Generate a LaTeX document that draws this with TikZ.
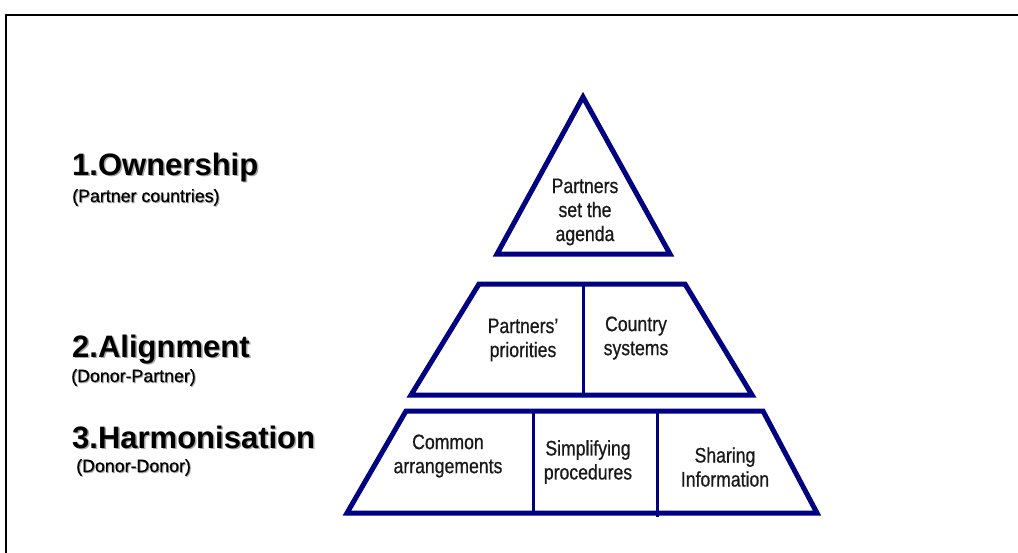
\documentclass[tikz,border=0pt]{standalone}
\usepackage{fontspec}
\setmainfont{Liberation Sans}
\newfontfamily\narrowfont[FakeStretch=0.84,FakeBold=0.7]{Liberation Sans}
\newfontfamily\subfont[FakeBold=0.6]{Liberation Sans}
\definecolor{navy}{RGB}{0,0,128}
\definecolor{ink}{RGB}{25,25,25}
\begin{document}
\begin{tikzpicture}[x=1pt,y=-1pt,
  outline/.style={draw=navy,line width=5pt,line join=miter},
  divider/.style={draw=navy,line width=3pt},
  inner/.style={align=center,inner sep=0pt,text=ink,font=\narrowfont\fontsize{21}{24}\selectfont},
  level/.style={anchor=base west,inner sep=0pt,font=\bfseries\fontsize{31}{31}\selectfont},
  sublevel/.style={anchor=base west,inner sep=0pt,font=\subfont\fontsize{17.8}{18}\selectfont},
  shadow/.style={text=black!35}]
\useasboundingbox (0,0) rectangle (1018,552);
\fill[white] (0,0) rectangle (1018,552);
% frame
\draw[line width=2.4pt] (6,560) -- (6,15) -- (1030,15);

% pyramid
\coordinate (apex) at (583,97);
\coordinate (tl) at (497,254);
\coordinate (tr) at (670,254);
\draw[outline] (apex) -- (tr) -- (tl) -- cycle;

\coordinate (a1) at (479,284);
\coordinate (a2) at (685,284);
\coordinate (a3) at (752,395);
\coordinate (a4) at (411,395);
\draw[outline] (a1) -- (a2) -- (a3) -- (a4) -- cycle;
\coordinate (ad1) at (583,284);
\coordinate (ad2) at (583,395);
\draw[divider] (ad1) -- (ad2);

\coordinate (h1) at (406,411);
\coordinate (h2) at (763,411);
\coordinate (h3) at (817,513);
\coordinate (h4) at (347,513);
\draw[outline] (h1) -- (h2) -- (h3) -- (h4) -- cycle;
\coordinate (hd1) at (533,411);
\coordinate (hd2) at (533,513);
\coordinate (hd3) at (657,411);
\coordinate (hd4) at (657,517);
\draw[divider] (hd1) -- (hd2);
\draw[divider] (hd3) -- (hd4);

% inner texts
\node[inner] (agenda) at (585,212) {Partners\\set the\\agenda};
\node[inner] (prio) at (523,340) {Partners’\\priorities};
\node[inner] (sys) at (636,338) {Country\\systems};
\node[inner] (common) at (448,456) {Common\\arrangements};
\node[inner] (simp) at (588,462) {Simplifying\\procedures};
\node[inner] (share) at (725,467) {Sharing\\Information};

% left labels (with soft shadow)
\node[level,shadow] (own-s) at (73.5,176.5) {1.Ownership};
\node[level] (own) at (72,175) {1.Ownership};
\node[sublevel,shadow] (owns-s) at (73,203) {(Partner countries)};
\node[sublevel] (owns) at (72,202) {(Partner countries)};

\node[level,shadow] (ali-s) at (73.5,358.5) {2.Alignment};
\node[level] (ali) at (72,357) {2.Alignment};
\node[sublevel,shadow] (alis-s) at (72,383) {(Donor-Partner)};
\node[sublevel] (alis) at (71,382) {(Donor-Partner)};

\node[level,shadow] (har-s) at (73.5,449.5) {3.Harmonisation};
\node[level] (har) at (72,448) {3.Harmonisation};
\node[sublevel,shadow] (hars-s) at (77,473) {(Donor-Donor)};
\node[sublevel] (hars) at (76,472) {(Donor-Donor)};
\end{tikzpicture}
\end{document}
